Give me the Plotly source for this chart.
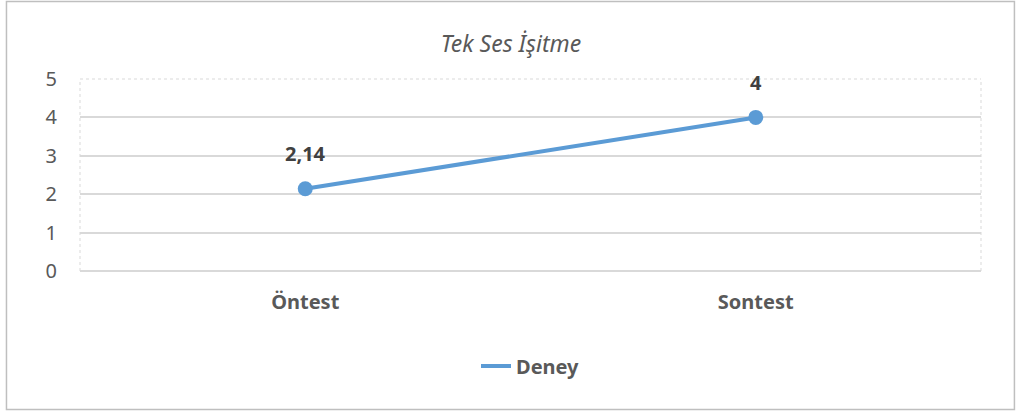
import plotly.graph_objects as go

# data
categories = ["Öntest", "Sontest"]
deney = [2.14, 4]
series_name = "Deney"
title_text = "Tek Ses İşitme"
y_ticks = [0, 1, 2, 3, 4, 5]

labels = [f"{v:g}".replace(".", ",") for v in deney]

BLUE = "#5B9BD5"
GRAY_TXT = "#595959"
GRID = "#D9D9D9"
FONT = "Noto Sans"

fig = go.Figure()

fig.add_trace(
    go.Scatter(
        x=categories,
        y=deney,
        mode="lines+markers",
        name=series_name,
        line=dict(color=BLUE, width=4),
        marker=dict(color=BLUE, size=15),
        showlegend=False,
    )
)
# legend entry shows the line only, like the original
fig.add_trace(
    go.Scatter(
        x=[None], y=[None], mode="lines", name=series_name,
        line=dict(color=BLUE, width=4),
    )
)

# value labels above the points
for cat, val, lab in zip(categories, deney, labels):
    fig.add_annotation(
        x=cat, y=val, text=f"<b>{lab}</b>", showarrow=False,
        yshift=35, font=dict(family=FONT, size=20, color="#404040"),
    )

# dotted plot-area frame (top, left, right)
frame = dict(color=GRID, width=1, dash="dot")
fig.add_shape(type="line", xref="paper", yref="paper", x0=0, x1=1, y0=1, y1=1, line=frame)
fig.add_shape(type="line", xref="paper", yref="paper", x0=0, x1=0, y0=0, y1=1, line=frame)
fig.add_shape(type="line", xref="paper", yref="paper", x0=1, x1=1, y0=0, y1=1, line=frame)

# outer chart border
fig.add_shape(
    type="rect", xref="paper", yref="paper",
    x0=-0.0816, x1=1.0371, y0=-0.721, y1=1.404,
    line=dict(color="#BFBFBF", width=1.5),
)

fig.update_layout(
    width=1022,
    height=412,
    margin=dict(l=80, r=41, t=79, b=141),
    paper_bgcolor="white",
    plot_bgcolor="white",
    font=dict(family=FONT, color=GRAY_TXT),
    title=dict(
        text=f"<i>{title_text}</i>",
        x=0.5, xanchor="center", y=0.893, yanchor="middle",
        font=dict(family=FONT, size=23, color=GRAY_TXT),
    ),
    showlegend=True,
    legend=dict(
        orientation="h", x=0.5, xanchor="center", y=-0.495, yanchor="middle",
        font=dict(family=FONT, size=20, color=GRAY_TXT, weight="bold"),
    ),
    xaxis=dict(
        type="category",
        range=[-0.5, 1.5],
        showgrid=False,
        showline=False,
        zeroline=False,
        ticks="",
        tickfont=dict(family=FONT, size=20, color=GRAY_TXT, weight="bold"),
        ticklabelstandoff=17,
    ),
    yaxis=dict(
        range=[0, 5],
        tickvals=y_ticks,
        showgrid=True,
        gridcolor=GRID,
        gridwidth=1.5,
        zeroline=True,
        zerolinecolor=GRID,
        zerolinewidth=1.5,
        showline=False,
        ticks="",
        tickfont=dict(family=FONT, size=20, color=GRAY_TXT),
        ticklabelstandoff=22,
    ),
)

fig.write_html(
    "out.html",
    config={"displayModeBar": False},
    post_script="document.body.style.margin='0';",
)
